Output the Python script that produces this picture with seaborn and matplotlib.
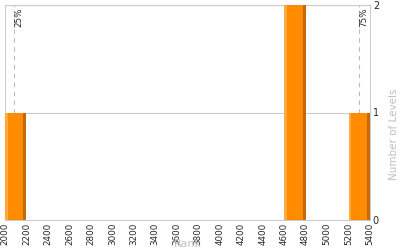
import matplotlib
matplotlib.use("Agg")
import matplotlib.pyplot as plt
import seaborn as sns
import pandas as pd
from matplotlib.patches import Rectangle

ranks = [2100, 4650, 4720, 5300]
bin_edges = list(range(2000, 5600, 200))
x_ticks = list(range(2000, 5600, 200))
y_ticks = [0, 1, 2]
quartile_labels = ["25%", "75%"]
quartile_values = [2084, 5296]

sns.set_style("white")
plt.rcParams['font.family'] = ['DejaVu Sans']

fig = plt.figure(figsize=(4, 2.5), dpi=100)
ax = fig.add_axes([0.0125, 0.12, 0.9125, 0.86])

df = pd.DataFrame({"rank": ranks})
sns.histplot(data=df, x="rank", bins=bin_edges, ax=ax, color="#FF8C00",
             alpha=1, edgecolor="none", linewidth=0, zorder=3)

for p in list(ax.patches):
    h = p.get_height()
    if h <= 0:
        continue
    x0, w = p.get_x(), p.get_width()
    ax.add_patch(Rectangle((x0, 0), w * 0.12, h, color="#FFA940", lw=0, zorder=4))
    ax.add_patch(Rectangle((x0 + w * 0.86, 0), w * 0.14, h, color="#C46A0C", lw=0, zorder=4))

ax.set_xlim(2000, 5400)
ax.set_ylim(0, 2)
ax.set_xticks(x_ticks)
ax.set_xticklabels([str(t) for t in x_ticks], rotation=90, fontsize=6.3)
ax.set_yticks(y_ticks)
ax.yaxis.tick_right()
ax.yaxis.set_label_position("right")
ax.set_yticklabels([str(t) for t in y_ticks], fontsize=7)
ax.tick_params(axis='both', length=0, pad=2)
ax.set_xlabel("Rank", color="#c0c0c0", fontsize=8, labelpad=-4.5)
ax.set_ylabel("Number of Levels", color="#c0c0c0", fontsize=7.5)
ax.yaxis.label.set_verticalalignment("center")
ax.yaxis.set_label_coords(1.066, 0.40)

for yv in y_ticks[1:]:
    ax.axhline(yv, color="#cccccc", lw=0.8, zorder=1)

for lab, val in zip(quartile_labels, quartile_values):
    ax.axvline(val, color="#bbbbbb", lw=0.8, ls=(0, (4, 4)), zorder=2)
    ax.text(val, 1.98, lab, rotation=90, fontsize=6.3, ha="left", va="top", zorder=5)

for s in ax.spines.values():
    s.set_color("#cccccc")
    s.set_linewidth(0.8)

fig.savefig("out.png", dpi=100)
